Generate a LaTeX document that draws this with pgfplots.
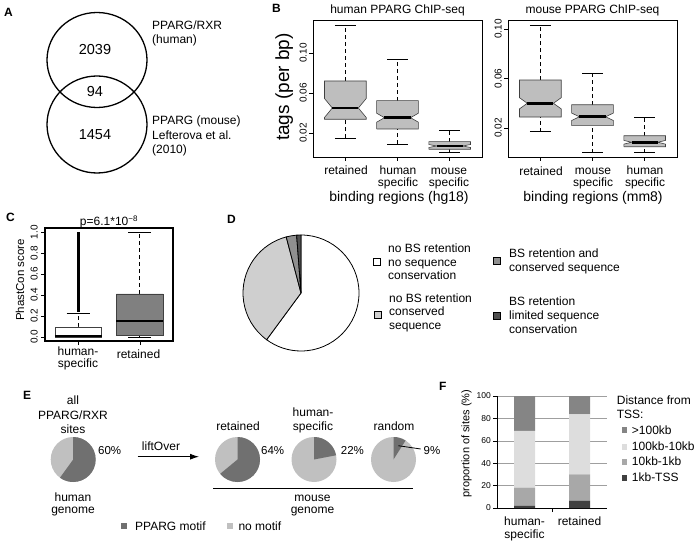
\documentclass[border=0pt]{standalone}
\usepackage{fontspec}
\setmainfont{Liberation Sans}
\usepackage{pgfplots}
\pgfplotsset{compat=1.18}
\usetikzlibrary{arrows.meta}
\newcommand\fs[1]{\fontsize{#1}{#1}\selectfont}
\definecolor{boxgray}{HTML}{BEBEBE}
\definecolor{boxline}{HTML}{404040}
\definecolor{cgray}{HTML}{808080}
\definecolor{Dlight}{HTML}{CFCFCF}
\definecolor{Dmed}{HTML}{8F8F8F}
\definecolor{Ddark}{HTML}{505050}
\definecolor{Edark}{HTML}{707070}
\definecolor{Elight}{HTML}{C0C0C0}
\definecolor{Fa}{HTML}{404040}
\definecolor{Fb}{HTML}{A8A8A8}
\definecolor{Fc}{HTML}{DDDDDD}
\definecolor{Fd}{HTML}{858585}

\pgfplotsset{
 whisk/.style={black, line width=0.6pt, dash pattern=on 4pt off 3pt},
 cap/.style={black, line width=0.6pt},
 boxs/.style={draw=boxline, line width=0.6pt},
 med/.style={black, line width=2.6pt},
 rbox/.style={scale only axis, axis line style={line width=0.6pt}, tick pos=left,
   tick align=outside, major tick length=4pt, tick style={line width=0.5pt, black},
   xticklabels={{},{},{}},
   yticklabel style={rotate=90, anchor=south, font=\fs{10}, inner sep=2pt}},
}

% #1 x, #2 lo, #3 q1, #4 med, #5 q3, #6 hi, #7 notch, #8 half width, #9 inner half width
\newcommand{\nbox}[9]{%
 \pgfmathsetmacro\xa{#1-#8}\pgfmathsetmacro\xb{#1+#8}%
 \pgfmathsetmacro\xc{#1-#9}\pgfmathsetmacro\xd{#1+#9}%
 \pgfmathsetmacro\sa{#1-#8/2}\pgfmathsetmacro\sb{#1+#8/2}%
 \pgfmathsetmacro\na{#4-#7}\pgfmathsetmacro\nb{#4+#7}%
 \edef\tmp{%
 \noexpand\addplot[whisk] coordinates {(#1,#5) (#1,#6)};
 \noexpand\addplot[whisk] coordinates {(#1,#2) (#1,#3)};
 \noexpand\addplot[cap] coordinates {(\sa,#6) (\sb,#6)};
 \noexpand\addplot[cap] coordinates {(\sa,#2) (\sb,#2)};
 \noexpand\addplot[boxs, fill=\bfill] coordinates {(\xa,#3) (\xa,\na) (\xc,#4) (\xa,\nb) (\xa,#5) (\xb,#5) (\xb,\nb) (\xd,#4) (\xb,\na) (\xb,#3) (\xa,#3)};
 \noexpand\addplot[med] coordinates {(\xc,#4) (\xd,#4)};
 }\tmp}

\newcommand\epie[3]{%
 \pgfmathsetmacro\ea{90-3.6*#3}%
 \begin{scope}[shift={(#1,#2)}, x=1pt, y=1pt]
 \fill[Elight] (0,0) circle[radius=22.5pt];
 \fill[Edark] (0,0) -- (90:22.5pt) arc[start angle=90, end angle=\ea, radius=22.5pt] -- cycle;
 \end{scope}}

\begin{document}
\begin{tikzpicture}
\path[use as bounding box] (0pt,0pt) rectangle (696pt,-545pt);

% ---------- B left
\begin{axis}[rbox, at={(313pt,-157pt)}, anchor=south west, width=169pt, height=137pt,
  xmin=0.38, xmax=3.62, ymin=-0.004, ymax=0.133, xtick={1,2,3},
  ytick={0.02,0.06,0.10}, yticklabels={0.02,0.06,0.10}]
\def\bfill{boxgray}
\nbox{1}{0.0147}{0.0337}{0.045}{0.072}{0.128}{0.0095}{0.4}{0.25}
\nbox{2}{0.009}{0.024}{0.0353}{0.0523}{0.0937}{0.0045}{0.4}{0.25}
\nbox{3}{0.0003}{0.0037}{0.007}{0.0113}{0.0223}{0.0015}{0.4}{0.25}
\end{axis}

% ---------- B right
\begin{axis}[rbox, at={(508pt,-157pt)}, anchor=south west, width=169pt, height=137pt,
  xmin=0.38, xmax=3.62, ymin=-0.0034, ymax=0.1073, xtick={1,2,3},
  ytick={0.02,0.06,0.10}, yticklabels={0.02,0.06,0.10}]
\def\bfill{boxgray}
\nbox{1}{0.017}{0.0289}{0.040}{0.0588}{0.1032}{0.0045}{0.4}{0.25}
\nbox{2}{0.0}{0.0219}{0.0291}{0.0388}{0.0644}{0.003}{0.4}{0.25}
\nbox{3}{0.0}{0.0049}{0.0085}{0.0138}{0.0286}{0.0015}{0.4}{0.25}
\end{axis}

% ---------- C
\begin{axis}[rbox, at={(45pt,-341pt)}, anchor=south west, width=128pt, height=113pt,
  xmin=0.46, xmax=2.54, ymin=-0.04, ymax=1.04, xtick={1,2},
  ytick={0,0.2,0.4,0.6,0.8,1.0}, yticklabels={0.0,0.2,0.4,0.6,0.8,1.0},
  axis line style={line width=1.2pt}, yticklabel style={inner sep=3pt}]
\def\bfill{white}
\nbox{1}{0}{0}{0.008}{0.095}{0.225}{0}{0.38}{0.38}
\addplot[black, line width=3.2pt] coordinates {(1,0.235) (1,1.0)};
\def\bfill{cgray}
\nbox{2}{0}{0.012}{0.15}{0.41}{1.0}{0}{0.38}{0.38}
\end{axis}

% ---------- F
\begin{axis}[at={(497pt,-508pt)}, anchor=south west, scale only axis, width=110pt, height=112pt,
  xmin=0.5, xmax=2.5, ymin=0, ymax=100, ybar stacked, bar width=21pt,
  axis x line=bottom, axis y line=left, axis line style={-, line width=0.7pt},
  xtick={1.5}, xticklabels={{}}, ytick={0,20,40,60,80,100}, yticklabels={0,20,40,60,80,100},
  yticklabel style={font=\fs{8.5}, inner sep=2pt}, tick align=outside, major tick length=4pt,
  tick style={black, line width=0.6pt}, ymajorgrids, grid style={draw=gray!75, line width=0.6pt}]
\addplot[fill=Fa, draw=none] coordinates {(1,2) (2,6.5)};
\addplot[fill=Fb, draw=none] coordinates {(1,16.2) (2,23.6)};
\addplot[fill=Fc, draw=none] coordinates {(1,50.6) (2,53.5)};
\addplot[fill=Fd, draw=none] coordinates {(1,31.2) (2,16.4)};
\end{axis}

\begin{scope}[x=1pt, y=-1pt]
\tikzset{lab/.style={anchor=base west, inner sep=0, font=\fs{12}\bfseries},
  t/.style={anchor=base, inner sep=0, font=\fs{12}},
  tl/.style={anchor=base west, inner sep=0, font=\fs{12}}}
% panel letters
\node[lab] at (4,17) {A};
\node[lab] at (272,12.3) {B};
\node[lab] at (6,222) {C};
\node[lab] at (227,224) {D};
\node[lab] at (23,399) {E};
\node[lab] at (439,390) {F};

% ---------- A
\draw[line width=1.3pt] (97,60) ellipse[x radius=50pt, y radius=47.5pt];
\draw[line width=1.3pt] (97,124.5) ellipse[x radius=50pt, y radius=48.5pt];
\node[t, font=\fs{14.5}] at (95,55) {2039};
\node[t, font=\fs{14.5}] at (95,97) {94};
\node[t, font=\fs{14.5}] at (95,140) {1454};
\node[tl] at (152,30) {PPARG/RXR};
\node[tl] at (152,44) {(human)};
\node[tl] at (152,125) {PPARG (mouse)};
\node[tl] at (152,139.5) {Lefterova et al.};
\node[tl] at (152,154) {(2010)};

% ---------- B texts
\node[t] at (397.5,13.5) {human PPARG ChIP-seq};
\node[t] at (592.5,13.5) {mouse PPARG ChIP-seq};
\node[rotate=90, anchor=base, inner sep=0, font=\fs{19}] at (289,87) {tags (per bp)};
\node[t] at (346,175) {retained};
\node[t] at (398,175) {human};
\node[t] at (398,186.5) {specific};
\node[t] at (449,175) {mouse};
\node[t] at (449,186.5) {specific};
\node[t] at (541,176) {retained};
\node[t] at (593,175) {mouse};
\node[t] at (593,186.5) {specific};
\node[t] at (645,175) {human};
\node[t] at (645,186.5) {specific};
\node[t, font=\fs{14}] at (399,201.7) {binding regions (hg18)};
\node[t, font=\fs{14}] at (593,201.7) {binding regions (mm8)};

% ---------- C texts
\node[t] at (109,226) {p=6.1*10\textsuperscript{−8}};
\node[rotate=90, anchor=base, inner sep=0, font=\fs{11.5}] at (24,280) {PhastCon score};
\node[t] at (78,355) {human-};
\node[t] at (78,367) {specific};
\node[t] at (138.5,358) {retained};

% ---------- D
\pgfmathsetmacro\da{90-3.6*60.1}
\pgfmathsetmacro\db{\da-3.6*35.8}
\pgfmathsetmacro\dc{\db-3.6*2.9}
\begin{scope}[shift={(301,293)}, x=1pt, y=1pt]
\filldraw[fill=white, draw=black, line width=0.8pt] (0,0) -- (90:58pt) arc[start angle=90, end angle=\da, radius=58pt] -- cycle;
\filldraw[fill=Dlight, draw=black, line width=0.8pt] (0,0) -- (\da:58pt) arc[start angle=\da, end angle=\db, radius=58pt] -- cycle;
\filldraw[fill=Dmed, draw=black, line width=0.8pt] (0,0) -- (\db:58pt) arc[start angle=\db, end angle=\dc, radius=58pt] -- cycle;
\filldraw[fill=Ddark, draw=black, line width=0.8pt] (0,0) -- (\dc:58pt) arc[start angle=\dc, end angle=-270, radius=58pt] -- cycle;
\end{scope}
\draw[fill=white, line width=0.6pt] (373,258.5) rectangle (380,265.5);
\draw[fill=Dlight, line width=0.6pt] (374,311) rectangle (381,318);
\draw[fill=Dmed, line width=0.6pt] (493,257.5) rectangle (500,264.5);
\draw[fill=Ddark, line width=0.6pt] (493,312.5) rectangle (500,319.5);
\node[tl] at (388,253) {no BS retention};
\node[tl] at (388,266.5) {no sequence};
\node[tl] at (388,280) {conservation};
\node[tl] at (389,302.3) {no BS retention};
\node[tl] at (389,315.7) {conserved};
\node[tl] at (389,329) {sequence};
\node[tl] at (509,258) {BS retention and};
\node[tl] at (509,271.5) {conserved sequence};
\node[tl] at (509,305.7) {BS retention};
\node[tl] at (509,319.5) {limited sequence};
\node[tl] at (509,333.5) {conservation};

% ---------- E
\epie{73.2}{459.5}{60}
\epie{237.5}{459.5}{64}
\epie{314}{459.5}{22}
\epie{393.5}{459.5}{9}
\node[t] at (73,404) {all};
\node[t] at (73,419) {PPARG/RXR};
\node[t] at (73,433) {sites};
\node[tl, font=\fs{11.5}] at (98,454) {60\%};
\node[t] at (73,501.5) {human};
\node[t] at (73,513) {genome};
\draw[line width=0.9pt, -{Latex[length=9pt, width=6pt]}] (137.7,456.7) -- (199,456.7);
\node[t] at (161,450.5) {liftOver};
\node[t] at (238,430) {retained};
\node[tl, font=\fs{11.5}] at (261,454) {64\%};
\node[t] at (313,416.7) {human-};
\node[t] at (313,430.5) {specific};
\node[tl, font=\fs{11.5}] at (340.7,454) {22\%};
\node[t] at (394,430) {random};
\draw[line width=0.8pt] (398.3,445.7) -- (420.7,449);
\node[tl, font=\fs{11.5}] at (423.5,454) {9\%};
\draw[line width=1pt] (213,488.3) -- (413,488.3);
\node[t] at (312.5,501.5) {mouse};
\node[t] at (312.5,513) {genome};
\fill[Edark] (120.7,522.7) rectangle (126.7,528.7);
\node[tl] at (135,530.5) {PPARG motif};
\fill[Elight] (226.7,522.7) rectangle (232.7,528.7);
\node[tl] at (238.3,530.5) {no motif};

% ---------- F texts
\node[rotate=90, anchor=base, inner sep=0, font=\fs{11}] at (469.4,443.5) {proportion of sites (\%)};
\node[t] at (524.5,525) {human-};
\node[t] at (524.5,538.5) {specific};
\node[t] at (579.5,525) {retained};
\node[tl] at (616.7,404.7) {Distance from};
\node[tl] at (616.7,418.3) {TSS:};
\fill[Fd] (621.5,427.3) rectangle (627,432.8);
\fill[Fc] (621.5,444) rectangle (627,449.5);
\fill[Fb] (621.5,459) rectangle (627,464.5);
\fill[Fa] (621.5,475) rectangle (627,480.5);
\node[tl] at (631.7,434) {>100kb};
\node[tl] at (631.7,450) {100kb-10kb};
\node[tl] at (631.7,465) {10kb-1kb};
\node[tl] at (631.7,481) {1kb-TSS};
\end{scope}
\end{tikzpicture}
\end{document}
